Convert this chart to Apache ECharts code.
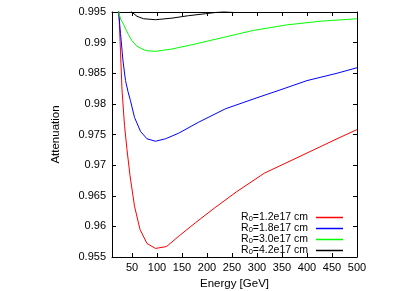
<!DOCTYPE html>
<html>
<head>
<meta charset="utf-8">
<script src="https://cdn.jsdelivr.net/npm/echarts@6/dist/echarts.min.js"></script>
<style>html,body{margin:0;padding:0;background:#fff}#c{width:415px;height:291px}</style>
</head>
<body>
<div id="c"></div>
<script>
var seriesNames = ['R0=1.2e17 cm', 'R0=1.8e17 cm', 'R0=3.0e17 cm', 'R0=4.2e17 cm'];
var xTicks = [50, 100, 150, 200, 250, 300, 350, 400, 450, 500];

var redE = [20, 24, 27, 30, 35, 40, 46, 55, 66, 80, 97, 119, 145, 177, 215, 260, 315, 380, 460, 500];
var redV = [1.0025, 0.9945, 0.9885, 0.9823, 0.9765, 0.9725, 0.9683, 0.9633, 0.9595, 0.9572, 0.9564, 0.9567, 0.9585, 0.9606, 0.9630, 0.9657, 0.9687, 0.9712, 0.9743, 0.9758];

var blueE = [20, 23, 27, 32, 37, 42, 47, 55, 67, 80, 97, 117, 143, 183, 237, 300, 340, 400, 460, 500];
var blueV = [0.9975, 0.9952, 0.9915, 0.9870, 0.9838, 0.9820, 0.9805, 0.9778, 0.9755, 0.9743, 0.9739, 0.9743, 0.9752, 0.9770, 0.9792, 0.9810, 0.9821, 0.9838, 0.9850, 0.9859];

var greenE = [21, 24, 28, 33, 38, 43, 50, 60, 77, 97, 130, 170, 230, 293, 360, 427, 500];
var greenV = [0.9975, 0.9947, 0.9937, 0.9930, 0.9921, 0.9913, 0.9903, 0.9894, 0.9887, 0.98857, 0.98896, 0.98966, 0.9908, 0.9920, 0.9929, 0.9935, 0.9939];

var blackE = [44, 50, 60, 73, 97, 130, 163, 197, 230, 300];
var blackV = [0.9956, 0.99495, 0.9943, 0.9939, 0.99374, 0.9940, 0.9944, 0.99472, 0.99505, 0.9956];

var colors = ['#ff0000', '#0000ff', '#00ff00', '#000000'];

function pairs(e, v) { return e.map(function (x, i) { return [x, v[i]]; }); }
var allData = [pairs(redE, redV), pairs(blueE, blueV), pairs(greenE, greenV), pairs(blackE, blackV)];

var FONT = 'Liberation Sans';
var chart = echarts.init(document.getElementById('c'), null, {renderer: 'canvas'});
var xBase = {
  type: 'value', min: 10, max: 500,
  axisLine: {show: true, onZero: false, lineStyle: {color: '#000', width: 1}},
  axisTick: {show: true, inside: true, length: 4, customValues: xTicks, lineStyle: {color: '#000'}},
  splitLine: {show: false}
};
var yBase = {
  type: 'value', min: 0.955, max: 0.995, interval: 0.005,
  axisLine: {show: true, onZero: false, lineStyle: {color: '#000', width: 1}},
  axisTick: {show: true, inside: true, length: 4, lineStyle: {color: '#000'}},
  splitLine: {show: false}
};
var option = {
  animation: false,
  grid: {left: 112, top: 12, width: 245, height: 245, containLabel: false, outerBoundsMode: 'none'},
  xAxis: [
    Object.assign({}, xBase, {
      position: 'bottom',
      name: 'Energy [GeV]', nameLocation: 'middle', nameGap: 21,
      nameTextStyle: {fontFamily: FONT, fontSize: 11.5, color: '#000'},
      axisLabel: {show: true, customValues: xTicks, margin: 5, fontFamily: FONT, fontSize: 11, color: '#000'}
    }),
    Object.assign({}, xBase, {position: 'top', axisLabel: {show: false}})
  ],
  yAxis: [
    Object.assign({}, yBase, {
      position: 'left',
      name: 'Attenuation', nameLocation: 'middle', nameGap: 50, nameRotate: 90,
      nameTextStyle: {fontFamily: FONT, fontSize: 11.5, color: '#000'},
      axisLabel: {show: true, margin: 6, fontFamily: FONT, fontSize: 11, color: '#000',
        formatter: function (v) { return String(parseFloat(v.toFixed(3))); }}
    }),
    Object.assign({}, yBase, {position: 'right', axisLabel: {show: false}})
  ],
  legend: {
    orient: 'vertical', align: 'right', right: 72, top: 212,
    itemWidth: 27, itemHeight: 1.5, itemGap: 0, icon: 'rect',
    padding: 0,
    data: seriesNames,
    formatter: function (n) { return '{a|R}{b|0}{a|' + n.slice(2) + '}'; },
    textStyle: {
      padding: [0, 3, 0, 0],
      rich: {
        a: {fontFamily: FONT, fontSize: 10.5, color: '#000', lineHeight: 10.5, verticalAlign: 'middle'},
        b: {fontFamily: FONT, fontSize: 7.5, color: '#000', lineHeight: 4, verticalAlign: 'bottom'}
      }
    }
  },
  series: seriesNames.map(function (n, i) {
    return {
      name: n, type: 'line', data: allData[i], xAxisIndex: 0, yAxisIndex: 0,
      showSymbol: false, symbol: 'none', clip: true, smooth: false,
      color: colors[i],
      lineStyle: {color: colors[i], width: 1}
    };
  })
};
chart.setOption(option);
</script>
</body>
</html>
